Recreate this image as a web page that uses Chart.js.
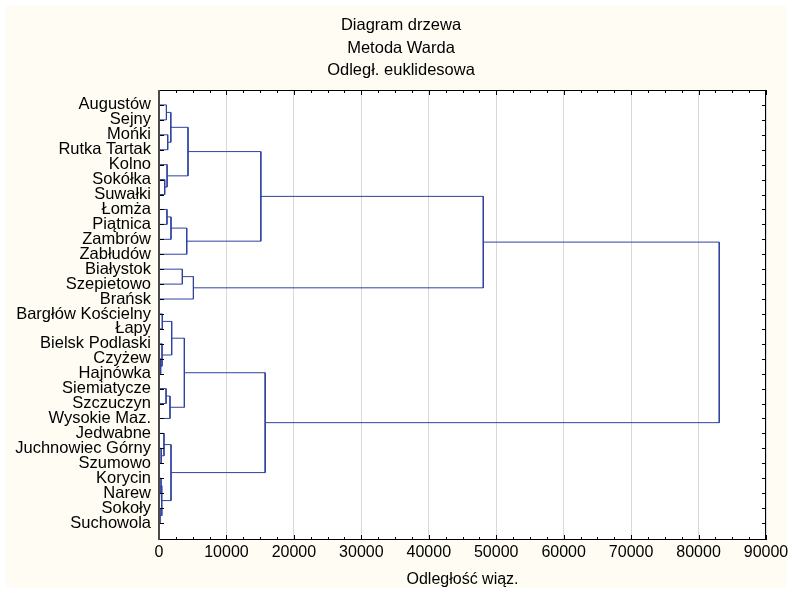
<!DOCTYPE html>
<html>
<head>
<meta charset="utf-8">
<script src="https://cdn.jsdelivr.net/npm/chart.js@4.4.0/dist/chart.umd.min.js"></script>
<style>
  html, body { margin: 0; padding: 0; background: #fff; }
  #wrap { width: 792px; height: 593px; }
</style>
</head>
<body>
<div id="wrap"><canvas id="tree" width="792" height="593"></canvas></div>
<script>
// leaves, top to bottom
const leafNames = ['Augustów', 'Sejny', 'Mońki', 'Rutka Tartak', 'Kolno', 'Sokółka', 'Suwałki',
  'Łomża', 'Piątnica', 'Zambrów', 'Zabłudów', 'Białystok', 'Szepietowo', 'Brańsk',
  'Bargłów Kościelny', 'Łapy', 'Bielsk Podlaski', 'Czyżew', 'Hajnówka', 'Siemiatycze',
  'Szczuczyn', 'Wysokie Maz.', 'Jedwabne', 'Juchnowiec Górny', 'Szumowo', 'Korycin',
  'Narew', 'Sokoły', 'Suchowola'];

// nodes 0..28 are the leaves, merge i makes node 29 + i
const mergeLeft   = [27, 17, 25, 23, 31, 16, 14, 22, 5, 19, 0, 4, 7, 2, 38, 39, 41, 36, 35, 11, 47, 45, 44, 48, 51, 49, 53, 55];
const mergeRight  = [28, 18, 26, 24, 29, 30, 15, 32, 6, 20, 1, 37, 8, 3, 21, 42, 9, 33, 34, 12, 43, 10, 40, 13, 50, 46, 52, 54];
const mergeHeight = [150, 250, 300, 320, 420, 450, 490, 740, 850, 1050, 1100, 1200, 1180, 1290, 1630, 1750, 1780, 1780,
  1880, 3460, 3760, 4110, 4300, 5100, 15100, 15740, 48080, 83070];

const titleLines = ['Diagram drzewa', 'Metoda Warda', 'Odległ. euklidesowa'];
const xTitle = 'Odległość wiąz.';
const xMin = 0, xMax = 90000, xStep = 10000;

const lineColor = '#2f42a0';
const fontFamily = '"Liberation Sans", Arial, sans-serif';

// build one bracket per merge
let nodeX = leafNames.map(() => 0);
let nodeY = leafNames.map((n, i) => i);
let datasets = [];
for (let i = 0; i < mergeHeight.length; i++) {
  let a = mergeLeft[i], b = mergeRight[i], h = mergeHeight[i];
  datasets.push({
    data: [
      {x: nodeX[a], y: nodeY[a]},
      {x: h, y: nodeY[a]},
      {x: h, y: nodeY[b]},
      {x: nodeX[b], y: nodeY[b]}
    ],
    showLine: true,
    borderColor: lineColor,
    borderWidth: 1,
    pointRadius: 0,
    pointHoverRadius: 0,
    tension: 0,
    fill: false
  });
  nodeX.push(h);
  nodeY.push((nodeY[a] + nodeY[b]) / 2);
}

const backdrop = {
  id: 'backdrop',
  afterLayout(chart) {
    // long leaf names reach past the left padding, don't clip them
    chart.scales.y.left = 0;
  },
  beforeDraw(chart) {
    const ctx = chart.ctx;
    const {left, right, top, bottom} = chart.chartArea;
    ctx.save();
    ctx.fillStyle = '#ffffff';
    ctx.fillRect(0, 0, chart.width, chart.height);
    ctx.fillStyle = '#fffcf4';
    ctx.fillRect(6, 5, chart.width - 12, chart.height - 10);
    ctx.fillStyle = '#ffffff';
    ctx.fillRect(left, top, right - left, bottom - top);
    ctx.restore();
  }
};

const frame = {
  id: 'frame',
  afterDatasetsDraw(chart) {
    const ctx = chart.ctx;
    const {left, right, top, bottom} = chart.chartArea;
    const xs = chart.scales.x, ys = chart.scales.y;
    ctx.save();
    ctx.strokeStyle = '#000';
    ctx.lineWidth = 1;
    ctx.beginPath();
    // x ticks, inside, top and bottom
    for (let v = xMin; v <= xMax; v += 2500) {
      let px = Math.round(xs.getPixelForValue(v)) + 0.5;
      let len = v % xStep === 0 ? 5 : 3;
      ctx.moveTo(px, bottom); ctx.lineTo(px, bottom - len);
      ctx.moveTo(px, top); ctx.lineTo(px, top + len);
    }
    // leaf ticks, inside, left and right
    leafNames.forEach((n, i) => {
      let py = Math.round(ys.getPixelForValue(i)) + 0.5;
      ctx.moveTo(left, py); ctx.lineTo(left + 5, py);
      ctx.moveTo(right, py); ctx.lineTo(right - 4, py);
    });
    ctx.stroke();
    ctx.strokeRect(left + 0.5, top + 0.5, right - left - 1, bottom - top - 1);
    ctx.fillStyle = '#4a4a4a';
    ctx.fillRect(left - 1, top, 2, bottom - top);
    ctx.restore();
  }
};

let ctx = document.getElementById('tree').getContext('2d');
let treeChart = new Chart(ctx, {
  type: 'scatter',
  data: { datasets: datasets },
  options: {
    responsive: false,
    animation: false,
    layout: { padding: { left: 36, right: 26, top: 0, bottom: 0 } },
    plugins: {
      legend: { display: false },
      tooltip: { enabled: false },
      title: {
        display: true,
        text: titleLines,
        color: '#000',
        font: { family: fontFamily, size: 16.5, weight: 'normal', lineHeight: 22.5 / 16.5 },
        padding: { top: 14.5, bottom: 8 }
      }
    },
    scales: {
      x: {
        type: 'linear',
        min: xMin,
        max: xMax,
        afterFit(scale) { scale.height = 53; },
        ticks: {
          stepSize: xStep,
          color: '#000',
          padding: 3,
          font: { family: fontFamily, size: 16 },
          callback: (v) => String(v)
        },
        grid: { color: '#d9d9d9', lineWidth: 1, drawTicks: false },
        border: { display: false },
        title: {
          display: true,
          text: xTitle,
          color: '#000',
          font: { family: fontFamily, size: 16 },
          padding: { top: 0, bottom: 4 }
        }
      },
      y: {
        type: 'linear',
        reverse: true,
        min: -1,
        max: 29.14,
        afterFit(scale) { scale.width = 123; },
        afterBuildTicks(scale) {
          scale.ticks = leafNames.map((n, i) => ({ value: i }));
        },
        ticks: {
          autoSkip: false,
          color: '#000',
          padding: 8,
          font: { family: fontFamily, size: 16.5 },
          callback: (v) => leafNames[v]
        },
        grid: { display: true, drawOnChartArea: false, drawTicks: false },
        border: { display: false }
      }
    }
  },
  plugins: [backdrop, frame]
});
</script>
</body>
</html>
